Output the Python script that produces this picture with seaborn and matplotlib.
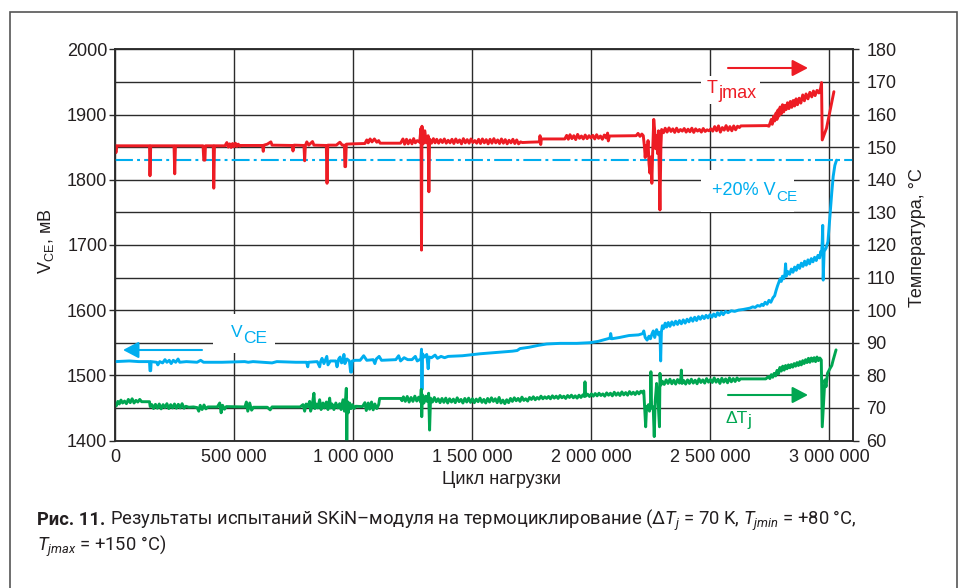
import numpy as np
import pandas as pd
import seaborn as sns
from matplotlib import pyplot as plt
from matplotlib.patches import Rectangle, FancyArrowPatch, ArrowStyle
from matplotlib.text import Annotation

W, H = 959, 588
RED = "#ed1c24"
BLUE = "#00aeef"
GREEN = "#00a651"
INK = "#231f20"
GRID = "#2b2b2b"

# T_jmax, right axis (deg C) vs load cycles (thousands)
TJMAX_KCYC = [
    0, 4, 8, 145, 147, 150, 248, 251, 254, 370,
    373, 378, 380, 413, 415, 418, 462, 470, 476, 482,
    488, 494, 500, 506, 512, 518, 524, 530, 560, 620,
    623, 626, 640, 655, 660, 745, 748, 752, 794, 797,
    800, 806, 814, 830, 836, 888, 891, 894, 930, 945,
    955, 964, 966, 969, 972, 1000, 1050, 1058, 1064, 1072,
    1080, 1090, 1100, 1108, 1114, 1200, 1210, 1217, 1225, 1232,
    1240, 1248, 1255, 1262, 1270, 1280, 1286, 1288, 1290, 1295,
    1302, 1308, 1316, 1319, 1322, 1330, 1338, 1345, 1352, 1360,
    1368, 1376, 1384, 1392, 1400, 1408, 1416, 1424, 1432, 1440,
    1448, 1456, 1464, 1472, 1480, 1488, 1496, 1504, 1512, 1520,
    1528, 1536, 1544, 1552, 1560, 1568, 1576, 1584, 1592, 1600,
    1608, 1616, 1624, 1632, 1640, 1648, 1656, 1664, 1672, 1680,
    1688, 1696, 1704, 1712, 1740, 1784, 1786, 1789, 1792, 1890,
    1898, 1905, 1912, 1920, 1928, 1936, 1944, 1952, 1960, 1968,
    1976, 1984, 1992, 2000, 2008, 2016, 2024, 2032, 2040, 2048,
    2056, 2064, 2070, 2073, 2078, 2190, 2198, 2206, 2214, 2220,
    2225, 2228, 2232, 2236, 2240, 2244, 2248, 2252, 2256, 2260,
    2264, 2268, 2272, 2276, 2280, 2284, 2290, 2294, 2297, 2305,
    2312, 2320, 2328, 2336, 2344, 2352, 2360, 2368, 2376, 2384,
    2392, 2400, 2408, 2416, 2424, 2432, 2440, 2448, 2456, 2464,
    2472, 2480, 2488, 2496, 2504, 2512, 2520, 2528, 2536, 2544,
    2552, 2560, 2568, 2576, 2584, 2592, 2600, 2608, 2616, 2624,
    2630, 2740, 2748, 2752, 2758, 2762, 2768, 2772, 2778, 2782,
    2786, 2790, 2795, 2800, 2805, 2810, 2815, 2820, 2826, 2832,
    2838, 2844, 2850, 2856, 2862, 2868, 2875, 2882, 2890, 2897,
    2904, 2912, 2920, 2928, 2935, 2942, 2950, 2958, 2965, 2969,
    2972, 2990, 3021,
]
TJMAX_C = [
    150.6, 148.3, 150.4, 150.4, 141.2, 150.4, 150.4, 141.8, 150.4, 150.4,
    146.0, 146.0, 150.4, 150.4, 137.4, 150.4, 150.4, 151.4, 150.0, 151.0,
    149.9, 151.1, 150.1, 151.2, 150.2, 150.9, 150.3, 150.5, 150.5, 150.5,
    148.7, 150.6, 150.9, 151.6, 150.6, 150.5, 148.8, 150.6, 150.5, 145.8,
    150.5, 151.6, 150.6, 151.7, 150.6, 150.5, 138.9, 150.6, 150.6, 151.5,
    150.6, 150.6, 144.0, 144.0, 150.9, 151.0, 151.1, 152.2, 151.3, 152.5,
    151.6, 152.5, 151.5, 152.0, 151.2, 151.2, 152.5, 150.9, 152.4, 151.0,
    152.2, 151.0, 152.6, 151.3, 152.0, 151.5, 155.8, 118.4, 156.4, 151.0,
    155.0, 151.3, 153.5, 136.3, 152.5, 151.2, 152.6, 151.3, 152.4, 151.2,
    152.3, 151.4, 152.5, 151.2, 152.1, 151.3, 152.4, 151.1, 152.5, 151.4,
    152.2, 151.0, 152.6, 151.3, 152.3, 151.2, 152.5, 151.4, 152.0, 151.2,
    152.4, 151.1, 152.5, 151.3, 152.3, 151.0, 152.4, 151.2, 152.6, 151.3,
    152.2, 151.1, 152.5, 151.2, 152.3, 151.0, 152.1, 151.3, 152.4, 151.1,
    152.2, 151.0, 151.6, 151.4, 151.5, 151.6, 153.5, 150.8, 152.5, 152.5,
    153.6, 152.4, 153.8, 152.6, 153.5, 152.3, 153.9, 152.7, 153.4, 152.5,
    153.7, 152.6, 153.5, 152.8, 153.6, 152.5, 153.8, 152.7, 153.4, 152.4,
    153.7, 152.8, 154.3, 151.9, 153.4, 153.5, 154.2, 153.3, 154.0, 153.5,
    150.0, 146.8, 150.5, 147.5, 152.0, 145.0, 142.0, 147.0, 138.9, 150.0,
    158.5, 155.0, 149.5, 153.5, 148.0, 155.0, 130.7, 150.0, 155.4, 154.4,
    155.8, 154.6, 155.9, 154.8, 155.6, 154.5, 155.8, 154.7, 155.4, 154.9,
    155.7, 154.6, 155.5, 154.7, 155.8, 154.5, 155.6, 154.9, 155.4, 154.6,
    155.7, 154.8, 155.3, 155.0, 155.6, 154.9, 156.3, 155.0, 156.5, 154.6,
    156.0, 155.2, 156.6, 155.1, 156.3, 155.0, 156.5, 155.3, 156.4, 156.0,
    156.5, 156.6, 156.4, 157.2, 158.5, 157.0, 159.5, 158.0, 160.5, 158.5,
    161.4, 159.5, 162.3, 160.2, 163.0, 160.8, 162.8, 161.5, 163.6, 161.8,
    164.0, 162.2, 164.3, 162.6, 164.8, 163.0, 165.0, 163.5, 166.0, 164.2,
    166.3, 164.8, 166.8, 165.4, 167.2, 165.8, 167.4, 166.6, 168.0, 169.8,
    152.2, 155.8, 167.0,
]

# V_CE, left axis (mV)
VCE_KCYC = [
    0, 60, 100, 145, 147, 150, 152, 175, 180, 188,
    200, 210, 218, 228, 236, 245, 255, 265, 272, 300,
    345, 360, 372, 450, 545, 560, 580, 620, 660, 680,
    760, 805, 810, 813, 850, 860, 864, 870, 878, 890,
    895, 905, 928, 933, 940, 946, 952, 958, 962, 966,
    975, 985, 990, 994, 997, 1010, 1030, 1045, 1058, 1085,
    1092, 1098, 1110, 1120, 1180, 1192, 1200, 1215, 1230, 1248,
    1262, 1270, 1285, 1288, 1290, 1292, 1300, 1310, 1316, 1320,
    1330, 1345, 1355, 1370, 1385, 1400, 1460, 1534, 1600, 1670,
    1690, 1702, 1740, 1780, 1814, 1870, 1940, 1996, 2030, 2060,
    2080, 2083, 2087, 2120, 2160, 2200, 2218, 2222, 2228, 2236,
    2244, 2250, 2256, 2262, 2268, 2276, 2284, 2290, 2293, 2296,
    2300, 2306, 2312, 2318, 2325, 2332, 2340, 2348, 2356, 2364,
    2372, 2380, 2388, 2396, 2404, 2412, 2420, 2428, 2436, 2444,
    2452, 2460, 2468, 2476, 2484, 2492, 2500, 2508, 2516, 2524,
    2532, 2540, 2548, 2556, 2566, 2576, 2590, 2604, 2620, 2640,
    2654, 2668, 2680, 2690, 2700, 2710, 2718, 2724, 2732, 2740,
    2748, 2756, 2765, 2772, 2778, 2784, 2790, 2795, 2800, 2805,
    2810, 2815, 2818, 2821, 2828, 2835, 2842, 2849, 2856, 2863,
    2870, 2877, 2884, 2891, 2898, 2905, 2912, 2919, 2926, 2933,
    2940, 2947, 2954, 2961, 2966, 2969, 2972, 2974, 2976, 2980,
    2988, 2996, 3004, 3012, 3018, 3025, 3032,
]
VCE_MV = [
    1521, 1522, 1521, 1521, 1507, 1507, 1521, 1520, 1516, 1521,
    1519, 1524, 1520, 1523, 1518, 1523, 1520, 1525, 1520, 1521,
    1520, 1523, 1520, 1520, 1521, 1520, 1521, 1520, 1519, 1521,
    1520, 1520, 1513, 1520, 1521, 1513, 1521, 1526, 1518, 1529,
    1516, 1522, 1522, 1513, 1525, 1528, 1519, 1521, 1532, 1518,
    1525, 1522, 1505, 1505, 1522, 1523, 1523, 1530, 1523, 1524,
    1518, 1525, 1529, 1523, 1524, 1530, 1522, 1527, 1524, 1524,
    1529, 1522, 1525, 1540, 1478, 1533, 1528, 1532, 1510, 1528,
    1527, 1531, 1526, 1529, 1527, 1529, 1530, 1533, 1535, 1537,
    1538, 1541, 1543, 1546, 1548, 1549, 1549, 1550, 1552, 1555,
    1557, 1564, 1556, 1558, 1561, 1562, 1564, 1568, 1558, 1554,
    1560, 1556, 1563, 1568, 1558, 1570, 1562, 1566, 1522, 1566,
    1576, 1572, 1580, 1574, 1581, 1575, 1582, 1577, 1583, 1578,
    1584, 1579, 1585, 1580, 1586, 1582, 1588, 1583, 1589, 1584,
    1590, 1586, 1591, 1587, 1592, 1588, 1593, 1589, 1594, 1590,
    1596, 1592, 1597, 1593, 1598, 1596, 1599, 1598, 1600, 1601,
    1602, 1603, 1605, 1604, 1607, 1606, 1609, 1607, 1612, 1609,
    1615, 1612, 1619, 1622, 1630, 1637, 1643, 1648, 1644, 1652,
    1648, 1655, 1671, 1652, 1659, 1655, 1663, 1658, 1666, 1661,
    1669, 1664, 1672, 1667, 1675, 1669, 1677, 1671, 1679, 1674,
    1681, 1676, 1684, 1680, 1690, 1686, 1705, 1730, 1646, 1690,
    1695, 1705, 1743, 1780, 1805, 1822, 1830,
]

# Delta T_j, right axis (K)
DTJ_KCYC = [
    0, 5, 12, 18, 25, 32, 40, 48, 56, 64,
    72, 80, 88, 96, 104, 112, 145, 148, 155, 162,
    170, 178, 186, 194, 202, 210, 218, 226, 234, 242,
    250, 258, 266, 274, 282, 290, 298, 310, 330, 345,
    352, 358, 366, 374, 382, 390, 430, 440, 446, 452,
    460, 468, 530, 546, 552, 558, 566, 574, 582, 640,
    652, 660, 778, 790, 797, 803, 810, 818, 822, 828,
    836, 840, 846, 852, 860, 866, 874, 880, 888, 895,
    902, 906, 912, 920, 928, 936, 944, 950, 958, 964,
    970, 972, 974, 976, 980, 986, 992, 998, 1005, 1012,
    1040, 1050, 1056, 1064, 1070, 1078, 1085, 1092, 1100, 1108,
    1112, 1200, 1206, 1212, 1220, 1228, 1236, 1244, 1252, 1260,
    1268, 1276, 1284, 1287, 1289, 1292, 1298, 1305, 1312, 1318,
    1322, 1326, 1334, 1342, 1350, 1358, 1366, 1374, 1382, 1390,
    1398, 1406, 1414, 1422, 1430, 1438, 1446, 1454, 1462, 1470,
    1478, 1486, 1494, 1502, 1510, 1518, 1526, 1534, 1542, 1550,
    1558, 1566, 1574, 1582, 1590, 1598, 1606, 1614, 1622, 1630,
    1638, 1646, 1654, 1662, 1670, 1678, 1686, 1694, 1702, 1710,
    1718, 1726, 1734, 1742, 1750, 1758, 1766, 1774, 1782, 1790,
    1798, 1806, 1814, 1822, 1830, 1838, 1846, 1854, 1862, 1870,
    1878, 1886, 1894, 1902, 1910, 1918, 1926, 1934, 1942, 1950,
    1958, 1966, 1972, 1975, 1978, 1986, 1994, 2002, 2010, 2018,
    2026, 2034, 2042, 2050, 2058, 2066, 2074, 2082, 2090, 2098,
    2106, 2114, 2122, 2130, 2138, 2146, 2154, 2162, 2170, 2178,
    2186, 2194, 2202, 2210, 2218, 2222, 2226, 2230, 2234, 2238,
    2242, 2246, 2250, 2252, 2255, 2258, 2262, 2266, 2270, 2276,
    2282, 2288, 2290, 2294, 2300, 2308, 2316, 2324, 2332, 2340,
    2348, 2356, 2364, 2372, 2378, 2380, 2383, 2390, 2398, 2406,
    2414, 2422, 2430, 2438, 2446, 2454, 2462, 2470, 2478, 2486,
    2494, 2502, 2510, 2518, 2526, 2534, 2542, 2550, 2558, 2566,
    2574, 2582, 2590, 2598, 2606, 2614, 2622, 2628, 2735, 2745,
    2752, 2758, 2764, 2770, 2776, 2782, 2788, 2794, 2800, 2806,
    2812, 2818, 2824, 2830, 2836, 2842, 2848, 2854, 2860, 2866,
    2872, 2878, 2884, 2890, 2896, 2902, 2908, 2914, 2920, 2926,
    2932, 2938, 2944, 2950, 2956, 2962, 2968, 2972, 2978, 2983,
    2988, 2994, 3004, 3012, 3018, 3030,
]
DTJ_K = [
    71.5, 70.6, 72.0, 71.2, 72.4, 71.5, 72.1, 71.3, 72.6, 71.6,
    72.8, 71.5, 72.3, 71.8, 72.6, 71.9, 71.9, 70.4, 71.0, 69.8,
    71.1, 69.9, 71.2, 69.7, 71.0, 70.1, 71.3, 69.8, 71.0, 70.0,
    71.2, 69.9, 71.1, 70.0, 71.3, 69.9, 70.5, 70.2, 70.3, 70.1,
    69.0, 70.8, 69.5, 70.9, 69.7, 70.3, 70.3, 71.5, 68.5, 70.8,
    69.6, 70.4, 70.3, 70.3, 71.8, 69.0, 71.5, 69.3, 70.2, 70.2,
    69.4, 70.3, 70.3, 71.0, 69.0, 71.2, 70.4, 72.0, 69.0, 70.5,
    74.5, 69.8, 71.2, 70.0, 72.5, 69.5, 71.5, 70.0, 71.8, 69.5,
    73.0, 70.0, 71.2, 69.5, 71.5, 70.0, 71.3, 69.5, 72.5, 69.0,
    73.5, 76.0, 58.6, 72.0, 68.5, 71.5, 69.8, 71.0, 69.8, 70.5,
    70.4, 71.6, 69.2, 71.5, 69.6, 71.8, 69.4, 71.2, 69.8, 71.0,
    72.9, 72.9, 72.2, 73.4, 72.0, 73.5, 71.8, 73.2, 72.0, 73.6,
    72.1, 73.3, 71.8, 75.7, 67.3, 74.0, 71.5, 73.6, 72.0, 74.5,
    63.2, 73.0, 71.8, 73.2, 71.9, 72.8, 71.6, 72.9, 71.7, 73.0,
    71.5, 72.8, 71.8, 72.7, 71.6, 73.1, 71.9, 72.6, 71.5, 72.9,
    71.8, 73.0, 71.7, 72.8, 71.6, 72.7, 71.9, 73.0, 71.7, 72.6,
    71.5, 72.9, 71.8, 73.1, 72.0, 72.8, 71.6, 73.2, 71.5, 72.4,
    71.3, 72.5, 71.6, 72.9, 72.0, 73.1, 72.2, 72.9, 72.0, 73.3,
    72.3, 72.8, 72.1, 73.2, 72.6, 73.4, 72.5, 73.2, 72.7, 73.6,
    72.8, 73.4, 72.9, 73.5, 72.8, 73.7, 73.0, 73.6, 72.9, 73.8,
    73.1, 73.6, 72.9, 73.8, 73.2, 73.9, 73.1, 73.7, 73.0, 73.9,
    73.2, 74.0, 73.5, 78.0, 73.6, 74.2, 73.5, 74.3, 73.6, 74.4,
    73.7, 74.5, 73.8, 74.3, 73.6, 74.6, 73.9, 74.5, 73.7, 74.8,
    73.9, 74.6, 73.8, 74.9, 74.0, 74.7, 73.9, 75.0, 74.2, 74.8,
    74.1, 75.0, 74.3, 75.1, 74.6, 75.2, 70.0, 64.2, 70.5, 69.5,
    71.0, 69.0, 70.5, 81.1, 70.0, 70.5, 69.5, 61.2, 72.0, 77.5,
    72.0, 64.2, 80.6, 77.0, 78.2, 77.2, 78.6, 77.5, 78.8, 77.4,
    78.5, 77.3, 78.7, 77.6, 79.2, 81.6, 77.5, 78.4, 77.3, 78.6,
    77.5, 78.8, 77.6, 78.5, 77.4, 78.9, 77.8, 78.6, 77.6, 79.0,
    77.9, 78.7, 77.8, 79.2, 77.9, 78.8, 77.5, 79.1, 77.9, 78.9,
    77.7, 79.2, 78.0, 79.0, 78.1, 79.2, 78.4, 78.9, 78.9, 79.6,
    79.0, 80.2, 79.4, 80.6, 79.8, 81.5, 80.4, 82.4, 81.3, 82.8,
    81.6, 83.0, 82.0, 83.2, 82.3, 83.3, 82.5, 83.6, 82.8, 83.9,
    83.0, 84.2, 83.2, 84.5, 83.6, 84.8, 83.9, 85.2, 84.0, 85.3,
    84.3, 85.4, 84.2, 85.6, 84.5, 85.3, 84.7, 64.2, 72.0, 78.6,
    76.5, 80.6, 82.0, 83.0, 84.7, 87.8,
]

VCE_LIMIT_MV = 1830  # +20 % V_CE
X_TICKS = [0, 500_000, 1_000_000, 1_500_000, 2_000_000, 2_500_000, 3_000_000]
X_TICK_LABELS = ["0", "500 000", "1 000 000", "1 500 000", "2 000 000",
                 "2 500 000", "3 000 000"]

assert len(TJMAX_KCYC) == len(TJMAX_C)
assert len(VCE_KCYC) == len(VCE_MV)
assert len(DTJ_KCYC) == len(DTJ_K)

sns.set_style("white")
plt.rcParams["font.family"] = ["Liberation Sans", "DejaVu Sans"]
plt.rcParams["mathtext.fontset"] = "custom"
plt.rcParams["mathtext.rm"] = "Roboto"
plt.rcParams["mathtext.it"] = "Roboto:italic"
plt.rcParams["mathtext.bf"] = "Roboto:bold"
plt.rcParams["text.color"] = INK


def fx(px):
    return px / W


def fy(py):
    return 1 - py / H


def sub_label(fig, x, y, main, sub, color, size, sub_size, drop):
    # main text on a baseline at image row y, the subscript continues right after it
    t = fig.text(fx(x), fy(y), main, color=color, fontsize=size,
                 ha="left", va="baseline", zorder=5)
    fig.add_artist(Annotation(sub, xy=(1, fy(y + drop)), xycoords=(t, "figure fraction"),
                              xytext=(0.5, 0), textcoords="offset pixels", color=color,
                              fontsize=sub_size, ha="left", va="baseline", zorder=5))


def white_box(fig, x0, y0, x1, y1):
    fig.add_artist(Rectangle((fx(x0), fy(y1)), (x1 - x0) / W, (y1 - y0) / H,
                             transform=fig.transFigure, facecolor="white",
                             edgecolor="none", zorder=2))


def arrow(fig, x0, x1, y, color):
    fig.add_artist(FancyArrowPatch((fx(x0), fy(y)), (fx(x1), fy(y)),
                                   transform=fig.transFigure,
                                   arrowstyle=ArrowStyle("-|>", head_length=0.95, head_width=0.5),
                                   mutation_scale=10, color=color, lw=1.5,
                                   shrinkA=0, shrinkB=0, zorder=4))


def main():
    tj = pd.DataFrame({"cycles": np.array(TJMAX_KCYC) * 1000, "temp": TJMAX_C})
    vce = pd.DataFrame({"cycles": np.array(VCE_KCYC) * 1000, "mv": VCE_MV})
    dtj = pd.DataFrame({"cycles": np.array(DTJ_KCYC) * 1000, "temp": DTJ_K})

    fig = plt.figure(figsize=(W / 100, H / 100), dpi=100)
    ax = fig.add_axes([fx(115), fy(440.5), (852.7 - 115) / W, (440.5 - 49.3) / H])
    ax2 = ax.twinx()

    sns.lineplot(data=vce, x="cycles", y="mv", ax=ax, color=BLUE, lw=2.1,
                 estimator=None, sort=False, zorder=3)
    ax.axhline(VCE_LIMIT_MV, color=BLUE, lw=1.5, dashes=(8.6, 2.0, 1.4, 2.0), zorder=3)
    sns.lineplot(data=tj, x="cycles", y="temp", ax=ax2, color=RED, lw=2.1,
                 estimator=None, sort=False)
    sns.lineplot(data=dtj, x="cycles", y="temp", ax=ax2, color=GREEN, lw=2.1,
                 estimator=None, sort=False)

    ax.set_xlim(0, 3.1e6)
    ax.set_ylim(1400, 2000)
    ax2.set_ylim(60, 180)
    ax.set_xticks(X_TICKS, X_TICK_LABELS)
    ax.set_yticks(range(1400, 2001, 100))
    ax.set_yticks(range(1450, 2000, 100), minor=True)
    ax2.set_yticks(range(60, 181, 10))

    ax.set_axisbelow(True)
    ax.grid(which="both", color=GRID, lw=1.0)
    ax2.grid(False)
    ax.tick_params(axis="y", which="major", direction="out", length=4.5, width=1.0,
                   pad=1, labelsize=13, colors=GRID, labelcolor=INK)
    ax.tick_params(axis="y", which="minor", length=0)
    ax.tick_params(axis="x", length=0, pad=6, labelsize=13, labelcolor=INK)
    ax2.tick_params(axis="y", direction="out", length=4, width=1.0, pad=6,
                    labelsize=13, colors=GRID, labelcolor=INK)
    for a in (ax, ax2):
        a.set_xlabel("")
        a.set_ylabel("")
        for spine in a.spines.values():
            spine.set_color(GRID)
            spine.set_linewidth(1.1)

    # axis titles
    fig.text(fx(46), fy(241), r"$\mathregular{V_{CE}}$, мВ", rotation=90,
             fontsize=13, ha="center", va="center", color=INK)
    fig.text(fx(917), fy(238), "Температура, °С", rotation=90,
             fontsize=13, ha="center", va="center", color=INK)
    fig.text(fx(501), fy(484), "Цикл нагрузки", fontsize=13,
             ha="center", va="baseline", color=INK)

    # in-plot labels
    white_box(fig, 701, 76, 760, 104)
    white_box(fig, 701, 170, 794, 212)
    white_box(fig, 213, 314, 275, 353)
    sub_label(fig, 707, 93, "T", "jmax", RED, 13, 13, 5)
    sub_label(fig, 712, 195, "+20% V", "CE", BLUE, 13, 11, 6)
    sub_label(fig, 231, 337, "V", "CE", BLUE, 12.5, 12.5, 6)
    sub_label(fig, 725, 423, "ΔT", "j", GREEN, 12.5, 12.5, 3)
    arrow(fig, 728, 808, 68, RED)
    arrow(fig, 202, 123, 350, BLUE)
    arrow(fig, 728, 808, 395, GREEN)

    # caption
    t = fig.text(fx(37), fy(525), "Рис. 11.", family="Roboto", weight="bold",
                 fontsize=13.2, ha="left", va="baseline", color=INK)
    fig.add_artist(Annotation(
        r"Результаты испытаний SKiN–модуля на термоциклирование "
        r"($\Delta\mathit{T}_{\mathit{j}}$ = 70 K, $\mathit{T}_{\mathit{jmin}}$ = +80 °C,",
        xy=(1, fy(525)), xycoords=(t, "figure fraction"), xytext=(5, 0),
        textcoords="offset pixels", family="Roboto", fontsize=13.2,
        ha="left", va="baseline", color=INK))
    fig.text(fx(37), fy(551), r"$\mathit{T}_{\mathit{jmax}}$ = +150 °C)",
             family="Roboto", fontsize=13.2, ha="left", va="baseline", color=INK)

    # outer frame (open at the bottom edge of the image)
    fig.add_artist(Rectangle((fx(10), fy(600)), (957 - 10) / W, (600 - 12) / H,
                             transform=fig.transFigure, fill=False,
                             edgecolor="#555555", lw=1.2, zorder=1))

    fig.savefig("out.png", dpi=100)


if __name__ == "__main__":
    main()
